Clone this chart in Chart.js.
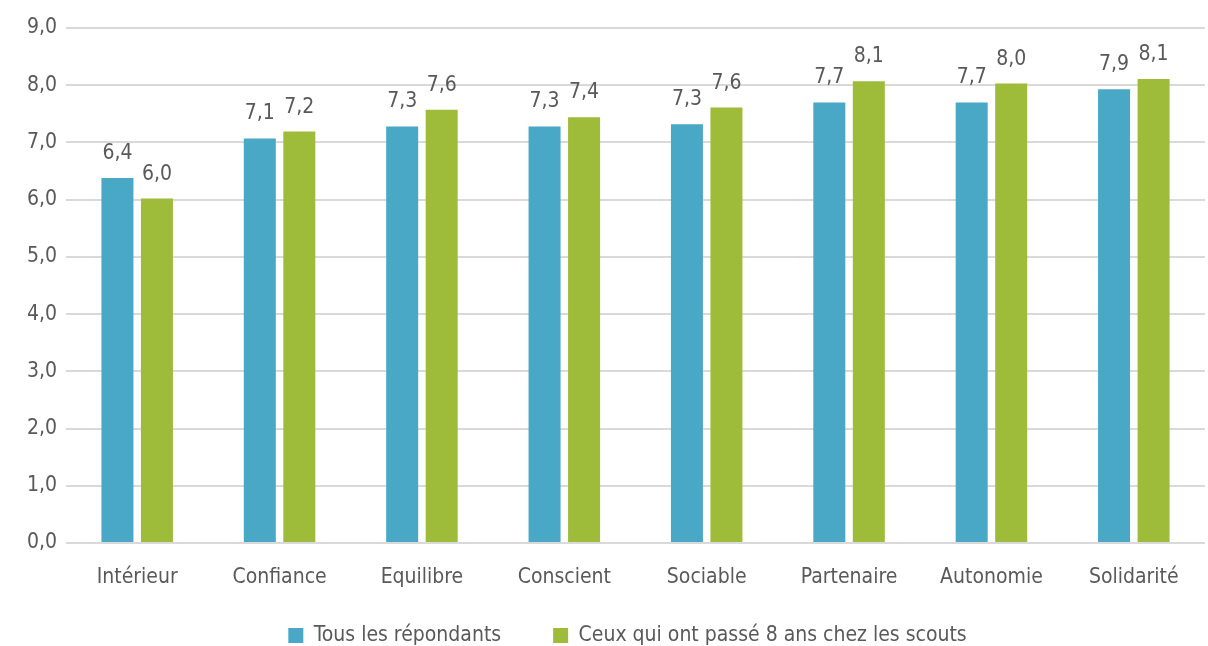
<!DOCTYPE html>
<html>
<head>
<meta charset="utf-8">
<script src="https://cdn.jsdelivr.net/npm/chart.js@4"></script>
<style>
  html, body { margin: 0; padding: 0; background: #fff; }
  #wrap { width: 1208px; height: 646px; position: relative; }
</style>
</head>
<body>
<div id="wrap"><canvas id="scoutChart"></canvas></div>
<script>
// catégories et valeurs
const categories = ['Intérieur', 'Confiance', 'Equilibre', 'Conscient', 'Sociable', 'Partenaire', 'Autonomie', 'Solidarité'];
const tousValues = [6.38, 7.07, 7.28, 7.28, 7.32, 7.70, 7.70, 7.93];
const scoutsValues = [6.02, 7.19, 7.57, 7.44, 7.61, 8.07, 8.03, 8.11];
const seriesNames = ['Tous les répondants', 'Ceux qui ont passé 8 ans chez les scouts'];
const yTicks = [0, 1, 2, 3, 4, 5, 6, 7, 8, 9];

const FONT = "'Liberation Sans Narrow', 'DejaVu Sans Condensed', 'Roboto Condensed', 'Noto Sans', sans-serif";
const GREY = '#595959';

function frNum(v) {
    return v.toFixed(1).replace('.', ',');
}

// étiquettes au-dessus des barres
const barLabels = {
    id: 'barLabels',
    afterDatasetsDraw(chart) {
        const ctx = chart.ctx;
        ctx.save();
        ctx.font = '21px ' + FONT;
        ctx.fillStyle = GREY;
        ctx.textAlign = 'center';
        ctx.textBaseline = 'alphabetic';
        chart.data.datasets.forEach((ds, i) => {
            chart.getDatasetMeta(i).data.forEach((bar, j) => {
                ctx.fillText(frNum(ds.data[j]), bar.x, bar.y - 19);
            });
        });
        ctx.restore();
    }
};

// hauteur et position de la légende
const legendBox = {
    id: 'legendBox',
    afterInit(chart) {
        const lg = chart.legend;
        const fit = lg.fit;
        lg.fit = function() {
            fit.call(this);
            this.height = 53;
        };
    },
    afterLayout(chart) {
        const lg = chart.legend;
        lg.left += 25;
        lg.right += 25;
        lg.top -= 20;
    }
};

const ctx = document.getElementById('scoutChart').getContext('2d');
new Chart(ctx, {
    type: 'bar',
    data: {
        labels: categories,
        datasets: [
            {
                label: seriesNames[0],
                data: tousValues,
                backgroundColor: '#48A8C6'
            },
            {
                label: seriesNames[1],
                data: scoutsValues,
                backgroundColor: '#9EBB3A'
            }
        ]
    },
    options: {
        responsive: true,
        maintainAspectRatio: false,
        animation: false,
        categoryPercentage: 0.555,
        barPercentage: 0.81,
        layout: {
            padding: { top: 28, right: 3, left: 0, bottom: 0 }
        },
        scales: {
            y: {
                min: 0,
                max: 9,
                afterFit(scale) { scale.width = 66; },
                afterBuildTicks(scale) { scale.ticks = yTicks.map(v => ({ value: v })); },
                border: { display: false },
                grid: { color: '#d9d9d9', lineWidth: 2, drawTicks: false },
                ticks: {
                    padding: 9,
                    color: GREY,
                    font: { family: FONT, size: 21 },
                    callback: v => frNum(v)
                }
            },
            x: {
                afterFit(scale) { scale.height = 50; },
                border: { display: false },
                grid: { display: false, drawTicks: false },
                ticks: {
                    padding: 22,
                    color: GREY,
                    font: { family: FONT, size: 21 }
                }
            }
        },
        plugins: {
            legend: {
                position: 'bottom',
                labels: {
                    boxWidth: 15,
                    boxHeight: 15,
                    padding: 52,
                    color: GREY,
                    font: { family: FONT, size: 21 }
                }
            },
            tooltip: { enabled: false }
        }
    },
    plugins: [barLabels, legendBox]
});
</script>
</body>
</html>
